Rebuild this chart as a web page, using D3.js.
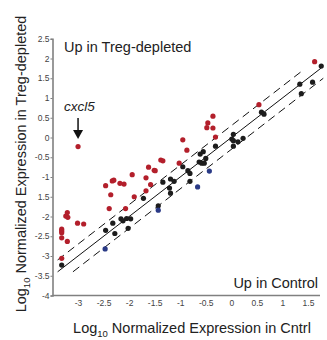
<!DOCTYPE html>
<html>
<head>
<meta charset="utf-8">
<script src="https://cdn.jsdelivr.net/npm/d3@7"></script>
<style>
  body { margin: 0; background: #fff; }
  svg { font-family: "Liberation Sans", Arial, sans-serif; }
</style>
</head>
<body>
<svg id="chart" width="327" height="340"></svg>
<script>
  // up in Treg-depleted (red)
  var redX = [-3.0, -1.94, -2.33, -2.30, -2.18, -2.10, -2.46, -2.36, -1.90, -2.39, -2.07,
    -3.21, -3.24, -3.20, -3.01, -2.89, -3.32, -3.32, -3.32, -3.32, -3.21, -3.32,
    -0.36, -0.46, -0.48, -0.36, -0.31, -0.95, -0.87, -1.38, -1.34, -1.02, -1.62,
    -1.51, -1.49, -1.67, -1.58, -1.67, 1.63, 0.54];
  var redY = [-0.23, -0.94, -1.10, -1.08, -1.16, -1.18, -1.22, -1.45, -1.50, -1.80, -1.80,
    -1.90, -1.99, -2.02, -2.17, -2.19, -2.32, -2.37, -2.41, -2.54, -2.63, -3.06,
    0.54, 0.37, 0.25, 0.24, 0.01, -0.06, -0.32, -0.57, -0.59, -0.65, -0.75,
    -0.83, -0.84, -1.02, -1.19, -1.35, 1.92, 0.83];

  // unchanged (black)
  var blackX = [-3.32, -2.32, -2.46, -2.28, -2.16, -2.12, -2.05, -1.97, -2.02, -1.72,
    -0.95, -0.61, -0.55, -0.63, -0.58, -0.53, -0.50, -0.85, -0.81, -1.34, -1.19,
    -1.12, -1.21, -1.19, -0.81, -1.43, -0.31, 1.76, 1.34, 1.59, 1.37, 0.59, 0.64,
    0.04, 0.01, 0.04, 0.04, 0.13, 0.23];
  var blackY = [-3.23, -2.17, -2.35, -2.43, -2.06, -2.11, -2.05, -2.06, -2.30, -1.54,
    -0.74, -0.42, -0.36, -0.62, -0.65, -0.65, -0.53, -0.84, -0.91, -1.13, -1.05,
    -1.11, -1.28, -1.41, -1.11, -1.73, -0.22, 1.81, 1.35, 1.40, 1.11, 0.64, 0.59,
    0.08, -0.04, -0.08, -0.22, -0.11, -0.02];

  // up in control (blue)
  var blueX = [-2.47, -1.43, -0.66, -0.43];
  var blueY = [-2.82, -1.84, -1.25, -0.85];

  var xTicks = [-3, -2.5, -2, -1.5, -1, -0.5, 0, 0.5, 1, 1.5];
  var yTicks = [-4, -3.5, -3, -2.5, -2, -1.5, -1, -0.5, 0, 0.5, 1, 1.5, 2, 2.5];
  // labels as printed in the figure (the -1.5 label lost its minus)
  var yTickLabels = ["-4", "-3.5", "-3", "-2.5", "-2", "1.5", "-1", "-0.5", "0", "0.5", "1", "1.5", "2", "2.5"];

  // y = x and 2-fold lines
  var guideOffsets = [0.3, 0, -0.3];
  var guideStarts = [-3.4, -3.4, -3.1];
  var guideEnds = [1.43, 1.78, 1.8];

  var RED = "#b31f2b";
  var BLACK = "#1c1c1c";
  var BLUE = "#2a3a86";
  var AXIS = "#808080";

  var svg = d3.select("#chart");

  var x = d3.scaleLinear().domain([-3.5, 1.8]).range([52.5, 323.3]);
  var y = d3.scaleLinear().domain([-4, 2.5]).range([295.5, 38.75]);

  // axes
  var xAxis = svg.append("g")
    .attr("transform", "translate(0," + y(-4) + ")")
    .call(d3.axisBottom(x).tickValues(xTicks).tickSize(0).tickPadding(4)
      .tickFormat(function (d) { return d; }));
  xAxis.select(".domain").attr("d", "M" + x(-3.5) + ",0H" + 320);

  var yAxis = svg.append("g")
    .attr("transform", "translate(" + x(-3.5) + ",0)")
    .call(d3.axisLeft(y).tickValues(yTicks).tickSize(2).tickPadding(1)
      .tickFormat(function (d, i) { return yTickLabels[i]; }));

  [xAxis, yAxis].forEach(function (ax) {
    ax.select(".domain").attr("stroke", AXIS).attr("stroke-width", 1.6);
    ax.selectAll(".tick line").attr("stroke", AXIS);
    ax.selectAll(".tick text")
      .attr("fill", "#444")
      .style("font-size", "8.5px")
      .style("font-family", "'Liberation Sans', Arial, sans-serif");
  });

  // guide lines
  guideOffsets.forEach(function (off, i) {
    svg.append("line")
      .attr("x1", x(guideStarts[i]))
      .attr("y1", y(guideStarts[i] + off))
      .attr("x2", x(guideEnds[i]))
      .attr("y2", y(guideEnds[i] + off))
      .attr("stroke", "#111")
      .attr("stroke-width", 1)
      .attr("stroke-dasharray", off === 0 ? null : "8,5");
  });

  function addPoints(xs, ys, color) {
    svg.append("g").selectAll("circle")
      .data(xs)
      .enter().append("circle")
      .attr("cx", function (d) { return x(d); })
      .attr("cy", function (d, i) { return y(ys[i]); })
      .attr("r", 2.6)
      .attr("fill", color);
  }

  addPoints(redX, redY, RED);
  addPoints(blackX, blackY, BLACK);
  addPoints(blueX, blueY, BLUE);

  // annotations
  svg.append("text")
    .attr("x", 64)
    .attr("y", 52)
    .style("font-size", "14.5px")
    .attr("fill", "#222")
    .text("Up in Treg-depleted");

  svg.append("text")
    .attr("x", 318)
    .attr("y", 288)
    .attr("text-anchor", "end")
    .style("font-size", "14.5px")
    .attr("fill", "#222")
    .text("Up in Control");

  svg.append("text")
    .attr("x", 64)
    .attr("y", 111)
    .style("font-size", "13.5px")
    .style("font-style", "italic")
    .attr("fill", "#222")
    .text("cxcl5");

  // arrow to cxcl5
  var ax0 = x(-3.0);
  svg.append("line")
    .attr("x1", ax0).attr("y1", 118)
    .attr("x2", ax0).attr("y2", 132)
    .attr("stroke", "#111").attr("stroke-width", 1.5);
  svg.append("path")
    .attr("d", "M" + (ax0 - 5) + ",130L" + (ax0 + 5) + ",130L" + ax0 + ",139Z")
    .attr("fill", "#111");

  // axis titles
  var xTitle = svg.append("text")
    .attr("x", 192)
    .attr("y", 333)
    .attr("text-anchor", "middle")
    .style("font-size", "14.5px")
    .attr("fill", "#222");
  xTitle.append("tspan").text("Log");
  xTitle.append("tspan").attr("dy", 4).style("font-size", "9.5px").text("10");
  xTitle.append("tspan").attr("dy", -4).text(" Normalized Expression in Cntrl");

  var yTitle = svg.append("text")
    .attr("transform", "translate(26,164) rotate(-90)")
    .attr("text-anchor", "middle")
    .style("font-size", "14.5px")
    .attr("fill", "#222");
  yTitle.append("tspan").text("Log");
  yTitle.append("tspan").attr("dy", 4).style("font-size", "9.5px").text("10");
  yTitle.append("tspan").attr("dy", -4).text(" Normalized Expression in Treg-depleted");
</script>
</body>
</html>
